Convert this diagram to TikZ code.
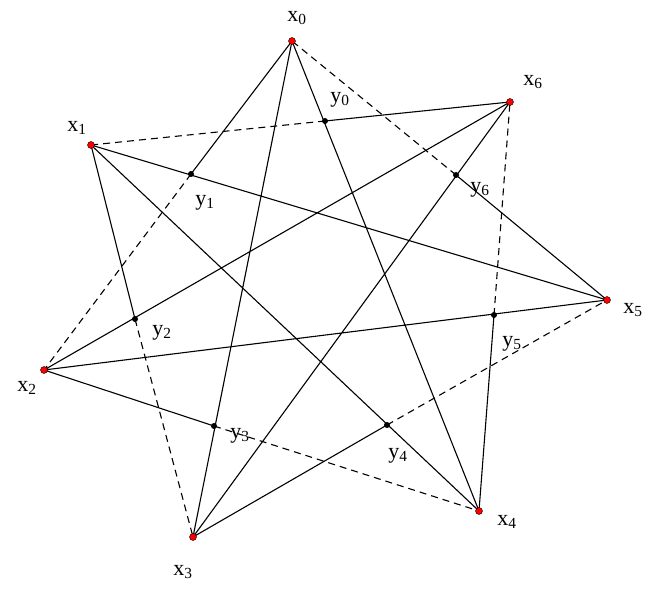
\documentclass[tikz,border=0pt]{standalone}
\usepackage{fontspec}
\setmainfont{Liberation Serif}
\begin{document}
\begin{tikzpicture}[x=1pt,y=-1pt,
  ln/.style={line width=1.1pt},
  dl/.style={line width=1.1pt,dash pattern=on 7pt off 5pt},
  xd/.style={circle,fill=red,draw=black,line width=0.4pt,inner sep=0pt,minimum size=7pt},
  yd/.style={circle,fill=black,inner sep=0pt,minimum size=6pt},
  lb/.style={font=\fontsize{22}{24}\selectfont,inner sep=0pt}]
\useasboundingbox (0,0) rectangle (664,593);
\coordinate (x0) at (292,41);
\coordinate (x1) at (91,145);
\coordinate (x2) at (44,370);
\coordinate (x3) at (193,537);
\coordinate (x4) at (479,511);
\coordinate (x5) at (607,300);
\coordinate (x6) at (510,102);
\coordinate (y0) at (325,121);
\coordinate (y1) at (191,174);
\coordinate (y2) at (135,319);
\coordinate (y3) at (214,426);
\coordinate (y4) at (387,425);
\coordinate (y5) at (494,315);
\coordinate (y6) at (456,175);
\draw[ln] (x0)--(x3) (x0)--(x4) (x1)--(x4) (x1)--(x5) (x2)--(x5) (x2)--(x6) (x3)--(x6);
\draw[ln] (x0)--(y1) (x1)--(y2) (x2)--(y3) (x3)--(y4) (x4)--(y5) (x5)--(y6) (x6)--(y0);
\draw[dl] (y1)--(x2) (y2)--(x3) (y3)--(x4) (y4)--(x5) (y5)--(x6) (y6)--(x0) (y0)--(x1);
\foreach \i in {0,...,6}{\node[xd] (px\i) at (x\i) {}; \node[yd] (py\i) at (y\i) {};}
\node[lb] (lx0) at (297,18) {x\textsubscript{0}};
\node[lb] (lx1) at (77,128) {x\textsubscript{1}};
\node[lb] (lx2) at (27,388) {x\textsubscript{2}};
\node[lb] (lx3) at (183,572) {x\textsubscript{3}};
\node[lb] (lx4) at (507,522) {x\textsubscript{4}};
\node[lb] (lx5) at (633,310) {x\textsubscript{5}};
\node[lb] (lx6) at (533,82) {x\textsubscript{6}};
\node[lb] (ly0) at (340,100) {y\textsubscript{0}};
\node[lb] (ly1) at (205,203) {y\textsubscript{1}};
\node[lb] (ly2) at (162,333) {y\textsubscript{2}};
\node[lb] (ly3) at (240,436) {y\textsubscript{3}};
\node[lb] (ly4) at (398,456) {y\textsubscript{4}};
\node[lb] (ly5) at (512,344) {y\textsubscript{5}};
\node[lb] (ly6) at (480,190) {y\textsubscript{6}};
\end{tikzpicture}
\end{document}
